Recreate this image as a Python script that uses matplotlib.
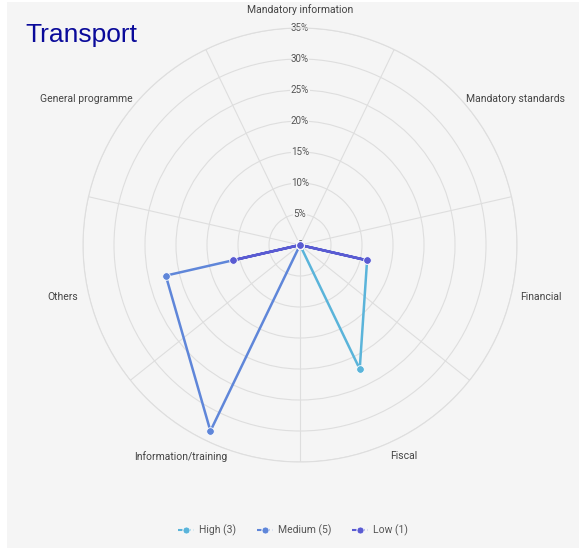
import numpy as np
import matplotlib
matplotlib.use("Agg")
import matplotlib.pyplot as plt
from matplotlib.lines import Line2D
from matplotlib.patches import Rectangle

categories = ["Mandatory information", "Mandatory standards", "Financial", "Fiscal",
              "Information/training", "Others", "General programme"]
high = [0, 0, 11.1, 22.2, 0, 0, 0]
medium = [0, 0, 0, 0, 33.3, 22.2, 0]
low = [0, 0, 11.1, 0, 0, 11.1, 0]
series_names = ["High (3)", "Medium (5)", "Low (1)"]
ring_ticks = [0, 5, 10, 15, 20, 25, 30, 35]

BG = "#f5f5f5"
GRID = "#dedede"
colors = ["#5ab4da", "#5f86d9", "#5a5bd2"]

plt.rcParams["font.family"] = ["Roboto", "DejaVu Sans"]

fig = plt.figure(figsize=(5.86, 5.48), dpi=100, facecolor="white")
fig.patches.append(Rectangle((7 / 586, 0), 572 / 586, 546 / 548, transform=fig.transFigure,
                             facecolor=BG, edgecolor="none", zorder=-10))

ax = fig.add_axes([83 / 586, 86 / 548, 434 / 586, 434 / 548], projection="polar")
ax.set_facecolor(BG)
ax.set_theta_zero_location("N")
ax.set_theta_direction(-1)
ax.set_ylim(0, 35)

n = len(categories)
angles = np.arange(n) * 2 * np.pi / n
step = 2 * np.pi / n

# spokes sit between the categories
ax.set_xticks(angles + step / 2)
ax.set_xticklabels([])
ax.set_yticks(ring_ticks[1:])
ax.set_yticklabels([])
ax.grid(True, color=GRID, linewidth=0.8)
ax.spines["polar"].set_color(GRID)
ax.spines["polar"].set_linewidth(0.8)
ax.tick_params(length=0)

for r in ring_ticks:
    ax.text(0, r, f"{r}%" if r else "0", ha="center", va="center", fontsize=7,
            color="#555555", zorder=2,
            bbox=dict(facecolor=BG, edgecolor="none", pad=0.3))

label_pos = [(0, 37.9), (55.9, 42.0), (102.2, 39.8), (153.8, 37.9),
             (209.4, 39.1), (257.6, 39.1), (304.3, 41.8)]
for name, (deg, rad) in zip(categories, label_pos):
    ax.text(np.deg2rad(deg), rad, name, ha="center", va="center", fontsize=7.5,
            color="#444444", clip_on=False)

closed = np.append(angles, angles[0])
for vals, col in zip([high, medium, low], colors):
    v = np.append(vals, vals[0])
    ax.plot(closed, v, color=col, linewidth=1.8, marker="o", markersize=5.5,
            markeredgecolor="white", markeredgewidth=0.6, zorder=3, clip_on=False)

handles = [Line2D([], [], color=c, linestyle=(0, (2.2, 1.6)), linewidth=1.5, marker="o",
                  markersize=5, markeredgecolor="white", markeredgewidth=0.5)
           for c in colors]
leg = fig.legend(handles, series_names, loc="center", bbox_to_anchor=(0.5, 1 - 530 / 548),
                 ncol=3, frameon=False, fontsize=7.5, handlelength=1.5,
                 columnspacing=2.0, handletextpad=0.5)
for t in leg.get_texts():
    t.set_color("#555555")

fig.text(25 / 586, 1 - 35 / 548, "Transport", fontsize=19, color="#0a0a9a",
         family=["Liberation Sans", "DejaVu Sans"], ha="left", va="center")

fig.savefig("out.png", dpi=100, facecolor=fig.get_facecolor())
